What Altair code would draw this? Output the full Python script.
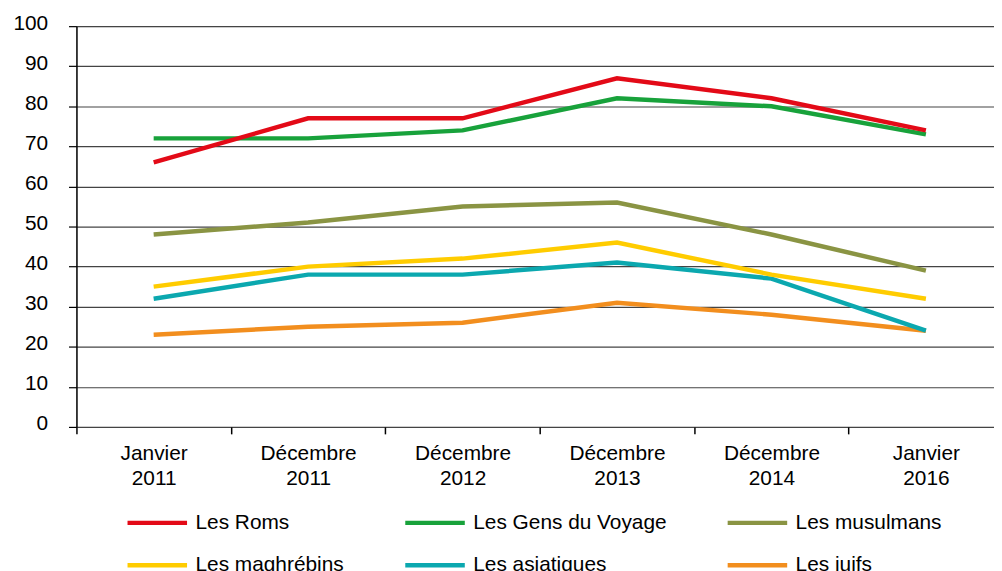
import json
import altair as alt
import pandas as pd

periods = ["Janvier 2011", "Décembre 2011", "Décembre 2012",
           "Décembre 2013", "Décembre 2014", "Janvier 2016"]
series_names = ["Les Roms", "Les Gens du Voyage", "Les musulmans",
                "Les maghrébins", "Les asiatiques", "Les juifs"]
roms = [66, 77, 77, 87, 82, 74]
gens_du_voyage = [72, 72, 74, 82, 80, 73]
musulmans = [48, 51, 55, 56, 48, 39]
maghrebins = [35, 40, 42, 46, 38, 32]
asiatiques = [32, 38, 38, 41, 37, 24]
juifs = [23, 25, 26, 31, 28, 24]
colors = ["#E30A17", "#18A23B", "#8A9443", "#FFCC00", "#0BA8AF", "#F28E1E"]
y_ticks = [0, 10, 20, 30, 40, 50, 60, 70, 80, 90, 100]

series_values = [roms, gens_du_voyage, musulmans, maghrebins, asiatiques, juifs]
rows = []
for name, vals in reversed(list(zip(series_names, series_values))):
    for i, (p, v) in enumerate(zip(periods, vals)):
        rows.append({"serie": name, "idx": i, "period": p, "value": v})
df = pd.DataFrame(rows)

FONT = "Liberation Sans"
W, H = 925, 404
STEP = 155.7
x_max = W / STEP - 0.5
label_lines = json.dumps([p.split(" ") for p in periods], ensure_ascii=False)

chart = alt.Chart(df).mark_line(strokeWidth=4.5).encode(
    x=alt.X("idx:Q",
            scale=alt.Scale(domain=[-0.5, x_max], nice=False, zero=False),
            axis=alt.Axis(title=None, domain=False, grid=False, labelAngle=0,
                          values=list(range(len(periods))),
                          labelExpr=f"{label_lines}[datum.value]",
                          labelFont=FONT, labelFontSize=21, labelLineHeight=25,
                          labelColor="black", tickColor="black", tickSize=7,
                          tickWidth=1.5, tickOffset=-STEP / 2, labelOffset=STEP / 2,
                          labelPadding=9, labelFlush=False, labelOverlap=False)),
    y=alt.Y("value:Q", scale=alt.Scale(domain=[0, 100], nice=False),
            axis=alt.Axis(title=None, values=y_ticks, domainColor="black",
                          domainWidth=1.5, tickColor="black", tickSize=8,
                          tickWidth=1.2, labelFont=FONT, labelFontSize=21,
                          labelColor="black", labelPadding=21, labelOffset=-3,
                          grid=True, gridColor="#444444", gridWidth=1.2)),
    color=alt.Color("serie:N",
                    scale=alt.Scale(domain=series_names, range=colors),
                    legend=alt.Legend(title=None, orient="none", legendX=49,
                                      legendY=468, columns=3, direction="horizontal",
                                      symbolType="stroke",
                                      symbolSize=3600, symbolStrokeWidth=4.5,
                                      labelFont=FONT, labelFontSize=21,
                                      labelColor="black", labelLimit=400,
                                      columnPadding=52, rowPadding=-40,
                                      labelOffset=6, padding=0)),
).properties(
    width=W, height=H,
    autosize=alt.AutoSizeParams(type="none"),
    padding={"left": 69, "top": 16, "right": 0, "bottom": 150},
).configure_view(stroke=None).configure(background="white")

chart.save("out.html", embed_options={"renderer": "svg", "actions": False})
